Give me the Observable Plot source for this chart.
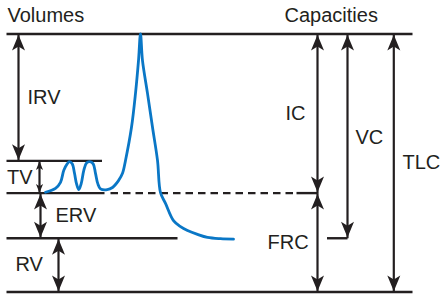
<!DOCTYPE html>
<html><head><meta charset="utf-8">
<script src="https://cdn.jsdelivr.net/npm/d3@7"></script>
<script src="https://cdn.jsdelivr.net/npm/@observablehq/plot@0.6"></script>
<style>body{margin:0;background:#fff}</style>
</head><body><div id="chart"></div>
<script>
// Lung volume levels (litres)
const RV_LEVEL = 1.25;   // residual volume
const FRC_LEVEL = 2.3;   // end-expiratory level
const EIP_LEVEL = 3.05;  // end-inspiratory (tidal) level
const TLC_LEVEL = 6.0;   // total lung capacity

// Spirogram trace (time units, volume)
const traceTime   = [45, 55, 60, 63.3, 66.7, 69, 71.7, 74, 76, 78.3, 80.7, 83.3, 86, 89.3, 92.7, 95, 97.3, 100, 106.7, 112, 118, 122, 125, 131, 135, 138, 140, 142, 147, 152, 157, 160, 165, 173, 180, 187, 197, 207, 220, 233];
const traceVolume = [2.32, 2.41, 2.55, 2.83, 2.98, 3.03, 2.98, 2.76, 2.52, 2.38, 2.52, 2.83, 3.0, 3.03, 2.98, 2.76, 2.52, 2.4, 2.38, 2.43, 2.59, 2.76, 3.06, 3.83, 4.62, 5.38, 6.0, 5.38, 4.62, 3.83, 3.06, 2.31, 2.06, 1.66, 1.52, 1.43, 1.34, 1.27, 1.24, 1.23];

// Volume / capacity labels
const volumeNames = ["IRV", "TV", "ERV", "RV"];
const capacityNames = ["IC", "VC", "TLC", "FRC"];
const headerNames = ["Volumes", "Capacities"];

const ink = "#231f20";
const blue = "#0a77c6";

// reference level lines: [t1, t2, volume, dashed]
const levelLines = [
  {t1: 6, t2: 412, v: TLC_LEVEL, dashed: false},
  {t1: 6, t2: 412, v: 0, dashed: false},
  {t1: 6, t2: 101.5, v: EIP_LEVEL, dashed: false},
  {t1: 6, t2: 104, v: FRC_LEVEL, dashed: false},
  {t1: 110, t2: 297, v: FRC_LEVEL, dashed: true},
  {t1: 296, t2: 317, v: FRC_LEVEL, dashed: false},
  {t1: 6, t2: 177, v: RV_LEVEL, dashed: false},
  {t1: 326.5, t2: 347, v: RV_LEVEL, dashed: false}
];

// double arrows spanning each volume / capacity
const spans = [
  {name: "IRV", t: 18, lo: EIP_LEVEL, hi: TLC_LEVEL, small: false},
  {name: "TV",  t: 39, lo: FRC_LEVEL, hi: EIP_LEVEL, small: true},
  {name: "ERV", t: 40, lo: RV_LEVEL,  hi: FRC_LEVEL, small: false},
  {name: "RV",  t: 58, lo: 0,         hi: RV_LEVEL,  small: false},
  {name: "IC",  t: 317, lo: FRC_LEVEL, hi: TLC_LEVEL, small: false},
  {name: "FRC", t: 317, lo: 0,        hi: FRC_LEVEL, small: false},
  {name: "VC",  t: 347, lo: RV_LEVEL, hi: TLC_LEVEL, small: false},
  {name: "TLC", t: 393.3, lo: 0,      hi: TLC_LEVEL, small: false}
];

// label anchors (time, volume at baseline)
const labelT = [27, 6.5, 55, 15, 285, 355, 402, 267, 7, 284];
const labelV = [4.37, 2.52, 1.62, 0.5, 3.99, 3.45, 2.87, 1.01, 6.27, 6.27];

const labels = [...volumeNames, ...capacityNames, ...headerNames].map((text, i) => ({text, t: labelT[i], v: labelV[i]}));
const trace = traceTime.map((t, i) => ({t, v: traceVolume[i]}));

function headSymbol(dir) {
  return {
    draw(ctx, size) {
      const r = Math.sqrt(size / Math.PI);
      const s = r / 10 * dir;
      const w = r / 10;
      ctx.moveTo(0, 0.8 * s);
      ctx.lineTo(6.5 * w, 16.5 * s);
      ctx.lineTo(0, 12.5 * s);
      ctx.lineTo(-6.5 * w, 16.5 * s);
      ctx.closePath();
    }
  };
}
const upHead = headSymbol(1);
const downHead = headSymbol(-1);

const ups = spans.map(d => ({t: d.t, v: d.hi, small: d.small}));
const downs = spans.map(d => ({t: d.t, v: d.lo, small: d.small}));

const chart = Plot.plot({
  width: 441,
  height: 296,
  marginLeft: 0,
  marginRight: 0,
  marginTop: 33.5,
  marginBottom: 4.5,
  x: {domain: [0, 441], axis: null},
  y: {domain: [0, 6], axis: null},
  marks: [
    Plot.link(levelLines.filter(d => !d.dashed), {x1: "t1", x2: "t2", y1: "v", y2: "v", stroke: ink, strokeWidth: 2.4}),
    Plot.link(levelLines.filter(d => d.dashed), {x1: "t1", x2: "t2", y1: "v", y2: "v", stroke: ink, strokeWidth: 2.4, strokeDasharray: "7.5,5"}),
    Plot.line(trace, {x: "t", y: "v", curve: "catmull-rom", stroke: blue, strokeWidth: 2.8}),
    Plot.link(spans, {x1: "t", x2: "t", y1: "lo", y2: "hi", stroke: ink, strokeWidth: 2.2}),
    Plot.dot(ups.filter(d => !d.small), {x: "t", y: "v", symbol: upHead, r: 10, fill: ink, stroke: "none"}),
    Plot.dot(downs.filter(d => !d.small), {x: "t", y: "v", symbol: downHead, r: 10, fill: ink, stroke: "none"}),
    Plot.dot(ups.filter(d => d.small), {x: "t", y: "v", symbol: upHead, r: 5.5, fill: ink, stroke: "none"}),
    Plot.dot(downs.filter(d => d.small), {x: "t", y: "v", symbol: downHead, r: 5.5, fill: ink, stroke: "none"}),
    Plot.text(labels, {x: "t", y: "v", text: "text", textAnchor: "start", lineAnchor: "bottom", fontSize: 20, fontFamily: "Liberation Sans, Arial, sans-serif", fill: ink})
  ]
});
document.getElementById("chart").appendChild(chart);
</script>
</body></html>
